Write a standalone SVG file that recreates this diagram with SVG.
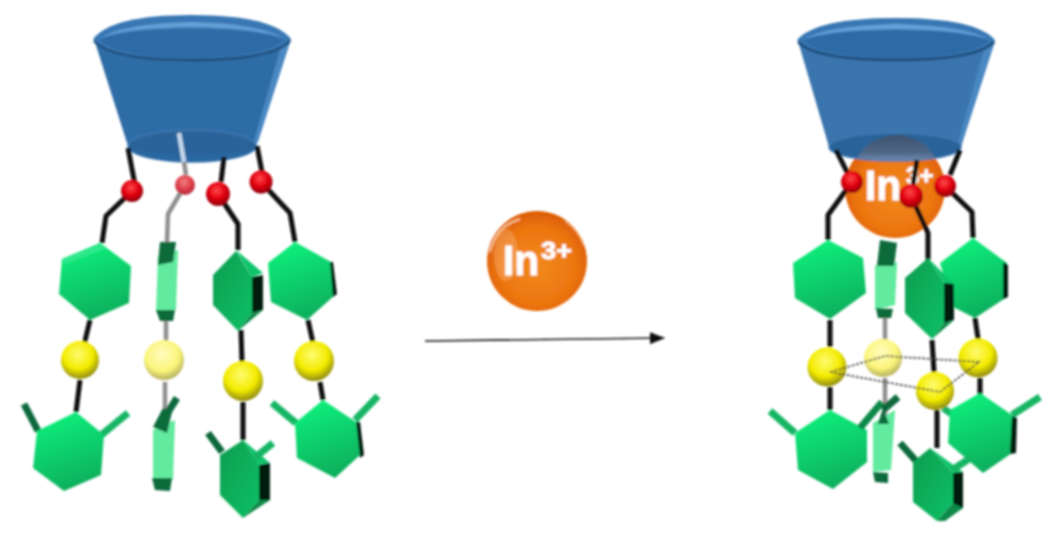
<svg xmlns="http://www.w3.org/2000/svg" width="1056" height="537" viewBox="0 0 1056 537">
<style>
.b{fill:none;stroke:#0c0c0c;stroke-width:5;stroke-linejoin:round}
.g{fill:none;stroke:#8f8f8f;stroke-width:4.5;stroke-linejoin:round}
.arm{fill:none;stroke:#12b563;stroke-width:7}
.armd{fill:none;stroke:#07683a;stroke-width:7}
.armm{fill:none;stroke:#0c8a4a;stroke-width:7}
.hx{fill:url(#hexLight)}
.hc{fill:url(#hexDark)}
.bl{fill:#2fe88c}
.bt{fill:#0fc56b}
.bb{fill:#0a8a48}
.k{fill:#031a0e}
.pl{fill:#62ea9f}
.pd{fill:#076a3b}
.red{fill:url(#red)}
.redp{fill:url(#redPale)}
.yel{fill:url(#yel)}
.yelp{fill:url(#yelPale)}
.org{fill:url(#org)}
.t{font-family:"Liberation Sans",Arial,sans-serif;font-weight:700;fill:#fff;stroke:#fff;stroke-width:0.8}
.coneb{fill:#2f6ca6}
.coneb2{fill:#3a74ad}
.edge{fill:#4a88c2}
.rim{fill:#3877b3}
.top{fill:#2f6ba6}
.hl{fill:#63a0d8}
.under{fill:#2b6399;stroke:#3f79b0;stroke-width:1.5}
.rimd{fill:none;stroke:#1f4c78;stroke-width:2.5}
.dome{fill:url(#dome)}
</style>
<defs>
<linearGradient id="hexLight" x1="0.3" y1="0" x2="0.6" y2="1"><stop offset="0" stop-color="#0ff07c"/><stop offset="1" stop-color="#11ad5c"/></linearGradient>
<linearGradient id="hexDark" x1="0" y1="0" x2="1" y2="1"><stop offset="0" stop-color="#0d9d50"/><stop offset="1" stop-color="#0fc066"/></linearGradient>
<radialGradient id="red" cx="0.45" cy="0.35" r="0.65"><stop offset="0" stop-color="#ff4a4a"/><stop offset="0.55" stop-color="#e00010"/><stop offset="1" stop-color="#8c0010"/></radialGradient>
<radialGradient id="redPale" cx="0.45" cy="0.35" r="0.65"><stop offset="0" stop-color="#f08080"/><stop offset="0.6" stop-color="#dd3a48"/><stop offset="1" stop-color="#b03040"/></radialGradient>
<radialGradient id="yel" cx="0.45" cy="0.35" r="0.65"><stop offset="0" stop-color="#fffb70"/><stop offset="0.6" stop-color="#f3ec00"/><stop offset="1" stop-color="#8f8a10"/></radialGradient>
<radialGradient id="yelPale" cx="0.45" cy="0.35" r="0.65"><stop offset="0" stop-color="#fffcc0"/><stop offset="0.65" stop-color="#fbf57a"/><stop offset="1" stop-color="#b5b060"/></radialGradient>
<radialGradient id="org" cx="0.5" cy="0.55" r="0.55"><stop offset="0" stop-color="#f28a1c"/><stop offset="0.7" stop-color="#ec7610"/><stop offset="1" stop-color="#dc5c04"/></radialGradient>
<linearGradient id="dome" x1="0" y1="0" x2="0" y2="1"><stop offset="0" stop-color="#3c536e"/><stop offset="0.7" stop-color="#4f6888"/><stop offset="1" stop-color="#6f8ab2"/></linearGradient>
<marker id="head" markerWidth="15" markerHeight="12" refX="14" refY="6" orient="auto" markerUnits="userSpaceOnUse"><path d="M0,0L15,6L0,12Z" fill="#111"/></marker>
<filter id="soft" x="-5%" y="-5%" width="110%" height="110%"><feGaussianBlur stdDeviation="0.9"/></filter>
</defs>
<rect width="1056" height="537" fill="#fff"/>
<g filter="url(#soft)">

<g id="ion-bound">
<circle class="org" cx="895" cy="188" r="50"/>
</g>
<g id="ion-bound-label">
<text class="t" x="865" y="200" font-size="42" textLength="36" lengthAdjust="spacingAndGlyphs">In</text>
<text class="t" x="906" y="184" font-size="24">3+</text>
</g>

<g id="cone-left">
<path class="coneb" d="M94,39L128,146A64,16 0 0 0 256,146L291,39Z"/>
<path class="edge" d="M280,50L291,39L258,142L253,144Z"/>
<ellipse class="under" cx="192" cy="146" rx="64" ry="16"/>
<path fill="#2d6ba6" opacity="0.6" d="M128,146A64,16 0 0 0 256,146A64,9 0 0 1 128,146Z"/>
<path class="rim" d="M93,39Q112,15 191,15Q272,15 291,39Q272,60 191,60Q112,60 93,39Z"/>
<path class="top" d="M99,40Q120,30 191,29Q264,30 285,40Q262,58 191,58Q120,58 99,40Z"/>
<path class="hl" d="M99,39Q120,24 191,22Q262,24 285,39Q262,28 191,27Q120,28 99,39Z"/>
<path class="rimd" d="M94,41Q112,60 191,60Q272,60 290,41"/>
</g>

<g id="cone-right">
<path class="coneb2" d="M798,41L829,147A66,14 0 0 0 961,147L995,41Z"/>
<path class="edge" d="M984,50L995,41L962,142L957,146Z"/>
<ellipse class="under" cx="895" cy="147" rx="66" ry="14"/>
<path class="rim" d="M797,40Q816,18 896,18Q976,18 995,40Q976,60 896,60Q816,60 797,40Z"/>
<path class="top" d="M803,41Q824,31 896,30Q968,31 989,41Q968,58 896,58Q824,58 803,41Z"/>
<path class="hl" d="M803,40Q824,26 896,24Q968,26 989,40Q968,30 896,29Q824,30 803,40Z"/>
<path class="rimd" d="M798,42Q816,60 896,60Q976,60 994,42"/>
<path class="dome" d="M857,158C864,144 880,136 897,135C914,136 928,144 935,158Q896,163 857,158Z"/>
</g>

<g id="connectors">
<path class="b" d="M128,148L135,185M132,191L106,216L102,243"/>
<path class="b" d="M90,320L84,345M80,380L76,412"/>
<path fill="none" stroke="#c4d8ee" stroke-width="4.5" d="M179,133L184,162"/>
<path class="g" d="M184,162L186,175M185,185L168,214L167,242M166,320L166,342M165,382L165,425"/>
<path class="b" d="M224,157L221,182M218,194L238,224L238,250M241,330L242,362M243,402L243,440"/>
<path class="b" d="M257,146L262,172M261,182L290,213L295,242M308,320L313,343M320,382L323,400"/>
<path class="b" d="M836,150L850,178M852,182L828,215L828,240M830,320L830,347M830,387L830,410"/>
<path class="g" d="M885,318L885,345M885,378L885,415"/>
<path class="b" d="M917,160L913,185M911,196L928,233L928,260M932,340L934,372M937,410L937,448"/>
<path class="b" d="M960,150L950,175M945,186L972,212L973,238M975,318L979,345M980,378L980,395"/>
<path fill="none" stroke="#151515" stroke-width="1.6" marker-end="url(#head)" d="M425,341L664,338"/>
</g>

<g id="oxygen-left">
<circle class="red" cx="132" cy="191" r="11"/>
<circle class="redp" cx="185" cy="185" r="10"/>
<circle class="red" cx="218" cy="194" r="12"/>
<circle class="red" cx="261" cy="182" r="11.5"/>
</g>
<g id="oxygen-right">
<circle class="red" cx="852" cy="182" r="11"/>
<circle class="red" cx="911" cy="196" r="12"/>
<circle class="red" cx="945" cy="186" r="11"/>
</g>

<g id="ring-a-top"><polygon class="hx" points="100,243 131,266 129,303 90,320 59,294 62,259"/><polygon class="bl" points="62,259 100,243 107,248 65,264"/></g>
<g id="ring-a-bottom">
<path class="armd" d="M38,431L24,404"/><path class="arm" d="M100,436L128,413"/>
<polygon class="hx" points="76,412 104,435 101,475 64,491 33,468 37,431"/></g>
<g id="ring-b-top"><polygon class="pl" points="158,255 178,250 176,310 156,312"/><polygon class="pd" points="160,242 176,242 173,262 158,265"/><polygon class="pd" points="156,310 175,310 173,321 160,321"/></g>
<g id="ring-b-bottom"><polygon class="pl" points="153,430 175,420 173,480 153,480"/><polygon class="pd" points="153,427 163,408 172,412 167,433"/><path class="armd" d="M168,412L177,398"/><polygon class="pd" points="152,478 172,478 170,491 155,490"/></g>
<g id="ring-c-top"><polygon class="bt" points="236,250 263,273 252,277"/><polygon class="hc" points="236,251 252,277 252,313 238,331 213,305 213,275"/><polygon class="k" points="252,277 263,275 263,310 252,313"/><polygon class="bb" points="238,331 252,313 263,310"/></g>
<g id="ring-c-bottom"><path class="armd" d="M222,452L208,433"/><polygon class="bt" points="243,440 270,463 259,465"/><polygon class="hc" points="243,440 259,465 259,500 243,518 220,495 220,455"/><polygon class="k" points="259,465 270,463 270,500 259,502"/><polygon class="bb" points="243,518 259,500 270,500"/><path class="arm" d="M252,460L273,443"/></g>
<g id="ring-d-top"><polygon class="hx" points="295,242 331,262 335,295 307,320 271,302 268,263"/><polygon class="k" points="330,262 333,262 337,294 333,297"/></g>
<g id="ring-d-bottom"><path class="arm" d="M296,423L272,403M355,420L378,396"/><polygon class="hx" points="323,400 356,422 360,455 335,478 297,458 295,423"/><polygon class="k" points="356,422 360,422 364,455 360,458"/></g>

<g id="ring-a2-top"><polygon class="hx" points="973,238 1007,263 1007,297 975,318 953,307 940,263"/><polygon class="k" points="1003,262 1008,265 1008,297 1003,299"/></g>
<g id="ring-a2-bottom"><path class="arm" d="M943,408L953,415M1040,397L1012,415"/><polygon class="hx" points="980,393 1012,415 1012,453 983,473 948,443 950,410"/><polygon class="k" points="1012,416 1017,418 1016,453 1010,454"/></g>
<g id="ring-b2-top"><polygon class="pl" points="875,265 897,262 895,305 875,310"/><polygon class="pd" points="880,240 897,243 894,266 877,266"/><polygon class="pd" points="876,308 893,309 891,318 878,318"/></g>
<g id="ring-b2-bottom"><polygon class="pl" points="873,423 895,410 891,470 873,472"/><polygon class="pd" points="878,424 889,424 883,408"/><polygon class="pd" points="873,472 888,473 888,483 875,482"/></g>
<g id="ring-c2-top"><polygon class="bt" points="928,258 954,284 944,283"/><polygon class="hc" points="928,258 944,283 944,323 932,339 905,313 905,278"/><polygon class="k" points="944,283 954,284 954,320 944,323"/><polygon class="bb" points="932,339 944,323 954,320"/></g>
<g id="ring-d2-top"><polygon class="hx" points="828,240 863,258 866,293 830,319 795,298 793,263"/></g>
<g id="ring-d2-bottom"><path class="arm" d="M795,433L770,411"/><polygon class="hx" points="830,410 867,430 867,462 833,489 798,470 795,433"/><path class="armm" d="M860,428L882,402"/><path class="armd" d="M883,410L898,397"/></g>
<g id="ring-c2-bottom"><path class="armd" d="M917,462L900,443"/><polygon class="bt" points="930,448 963,472 953,473"/><polygon class="hc" points="930,448 953,473 953,503 937,521 913,502 913,462"/><polygon class="k" points="953,473 963,472 963,508 953,510"/><polygon class="bb" points="937,521 953,503 963,508 945,521"/><path class="arm" d="M952,470L972,457"/></g>

<g id="metal-left">
<circle class="yel" cx="80" cy="360" r="19"/>
<circle class="yelp" cx="164" cy="360" r="20"/>
<circle class="yel" cx="243" cy="381" r="20"/>
<circle class="yel" cx="314" cy="361" r="20"/>
</g>
<g id="metal-right">
<circle class="yel" cx="827" cy="367" r="19.5"/>
<circle class="yelp" cx="883" cy="358" r="19"/>
<circle class="yel" cx="978" cy="358" r="19.5"/>
<circle class="yel" cx="935" cy="391" r="19"/>
</g>
<g id="cluster-edges">
<path fill="none" stroke="#3a3a3a" stroke-width="1.5" stroke-dasharray="3 1.5" d="M830,372L885,356L979,362L940,392Z"/>
</g>

<g id="ion-free">
<circle class="org" cx="537" cy="261" r="50"/>
<path fill="none" stroke="#ffe0b8" stroke-width="2" opacity="0.8" d="M490,252Q496,226 520,219"/>
<path fill="none" stroke="#ffd39a" stroke-width="1.5" opacity="0.7" d="M565,221Q578,230 584,245"/>
<ellipse cx="506" cy="255" rx="12" ry="26" fill="#ffc9a0" opacity="0.3"/>
<text class="t" x="503" y="275" font-size="42" textLength="36" lengthAdjust="spacingAndGlyphs">In</text>
<text class="t" x="541" y="259" font-size="24" textLength="31" lengthAdjust="spacingAndGlyphs">3+</text>
</g>
</g>
</svg>
